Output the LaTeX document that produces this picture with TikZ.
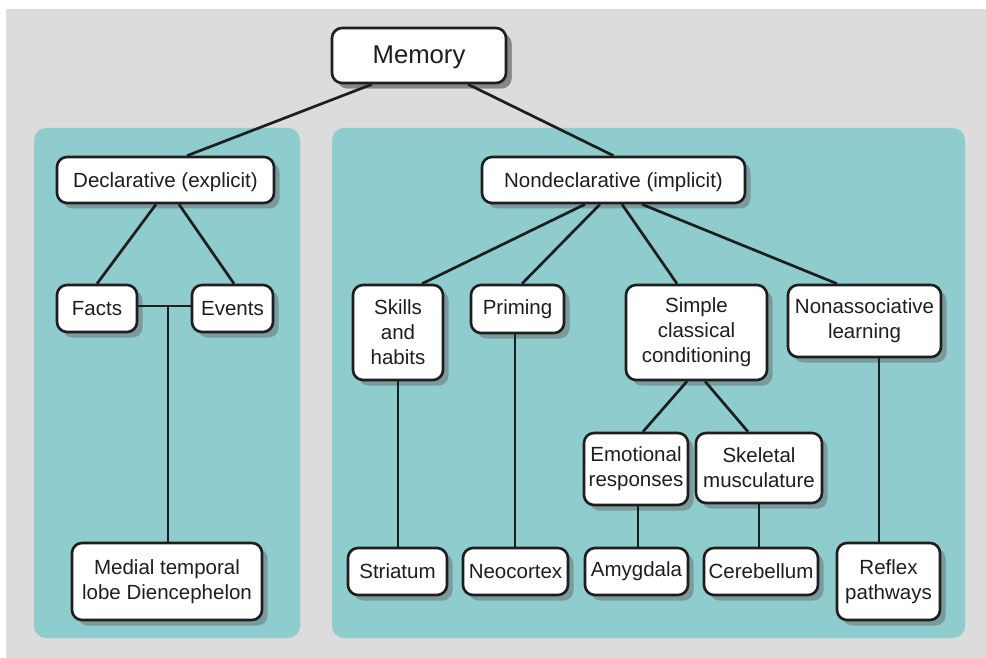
\documentclass[tikz,border=0pt]{standalone}
\usepackage{fontspec}
\setmainfont{Liberation Sans}
\usetikzlibrary{shadows}
\definecolor{bgc}{HTML}{DCDCDC}
\definecolor{teal1}{HTML}{8ECCCD}
\definecolor{shd}{HTML}{7B9A9B}
\definecolor{shdg}{HTML}{878787}
\definecolor{ink}{HTML}{1E1E1E}
\begin{document}
\begin{tikzpicture}[x=1pt,y=-1pt,
  box/.style={draw=ink, line width=2.6pt, fill=white, rounded corners=10pt,
    inner sep=0pt, align=center, text=ink,
    font=\fontsize{20.5}{25}\selectfont,
    drop shadow={shadow xshift=5.5pt, shadow yshift=-5.5pt, fill=shd, opacity=1}},
  link/.style={draw=ink, line width=2.7pt},
  panel/.style={fill=teal1, rounded corners=12pt}]
\useasboundingbox (0,0) rectangle (986,658);
\fill[white] (0,0) rectangle (986,658);
\fill[bgc] (6,9) rectangle (986,658);
\fill[panel] (34,128) rectangle (300,638);
\fill[panel] (332,128) rectangle (965,638);

% nodes
\node[box, minimum width=174pt, minimum height=55pt, font=\fontsize{25.7}{30}\selectfont,
  text height=17pt, text depth=0pt,
  drop shadow={shadow xshift=5.5pt, shadow yshift=-5.5pt, fill=shdg, opacity=1}] (mem) at (419,55.5) {Memory};
\node[box, minimum width=217pt, minimum height=46pt, text height=15pt, text depth=0pt] (decl) at (165.5,180) {Declarative (explicit)};
\node[box, minimum width=80pt, minimum height=47pt] (facts) at (97,308.5) {Facts};
\node[box, minimum width=81pt, minimum height=47pt] (events) at (232.5,308.5) {Events};
\node[box, minimum width=190pt, minimum height=77pt] (mtl) at (167,581.5) {Medial temporal\\lobe Diencephelon};
\node[box, minimum width=263pt, minimum height=46pt, text height=15pt, text depth=0pt] (nondecl) at (613.5,180) {Nondeclarative (implicit)};
\node[box, minimum width=90pt, minimum height=95pt] (skills) at (398,332.5) {Skills\\and\\habits};
\node[box, minimum width=93pt, minimum height=48pt] (priming) at (517.5,309) {Priming};
\node[box, minimum width=141pt, minimum height=95pt] (simple) at (696.5,332.5) {Simple\\classical\\conditioning};
\node[box, minimum width=153pt, minimum height=72pt] (nonassoc) at (864.5,321) {Nonassociative\\learning};
\node[box, minimum width=104pt, minimum height=72pt] (emot) at (636,469) {Emotional\\responses};
\node[box, minimum width=126pt, minimum height=70pt] (skel) at (759,468) {Skeletal\\musculature};
\node[box, minimum width=99pt, minimum height=47pt] (striatum) at (397.5,571.5) {Striatum};
\node[box, minimum width=105pt, minimum height=47pt] (neocortex) at (515.5,571.5) {Neocortex};
\node[box, minimum width=103pt, minimum height=47pt] (amyg) at (636.5,571.5) {Amygdala};
\node[box, minimum width=114pt, minimum height=47pt] (cereb) at (761,571.5) {Cerebellum};
\node[box, minimum width=103pt, minimum height=77pt] (reflex) at (888.5,581.5) {Reflex\\pathways};

% connectors
\draw[link] ([xshift=-47pt]mem.south) -- ([xshift=21.5pt]decl.north);
\draw[link] ([xshift=49pt]mem.south) -- (nondecl.north);
\draw[link] ([xshift=-9.5pt]decl.south) -- (facts.north);
\draw[link] ([xshift=13.5pt]decl.south) -- ([xshift=1.5pt]events.north);
\draw[link] ([yshift=2.5pt]facts.east) -- ([yshift=2.5pt]events.west);
\coordinate (dj) at ([xshift=1pt,yshift=2.5pt]mtl.north |- facts.east);
\draw[link] (dj) -- ([xshift=1pt]mtl.north);
\draw[link] ([xshift=-28.5pt]nondecl.south) -- ([xshift=24pt]skills.north);
\draw[link] ([xshift=-13.5pt]nondecl.south) -- ([xshift=4.5pt]priming.north);
\draw[link] ([xshift=8.5pt]nondecl.south) -- ([xshift=-19.5pt]simple.north);
\draw[link] ([xshift=28.5pt]nondecl.south) -- ([xshift=-27.5pt]nonassoc.north);
\draw[link] ([xshift=-9.5pt]simple.south) -- ([xshift=7pt]emot.north);
\draw[link] ([xshift=8.5pt]simple.south) -- ([xshift=-11pt]skel.north);
\draw[link] (skills.south) -- (skills.south |- striatum.north);
\draw[link] ([xshift=-0.5pt]neocortex.north |- priming.south) -- ([xshift=-0.5pt]neocortex.north);
\draw[link] ([xshift=2pt]emot.south) -- ([xshift=2pt]emot.south |- amyg.north);
\draw[link] (skel.south) -- (skel.south |- cereb.north);
\draw[link] ([xshift=14.5pt]nonassoc.south) -- ([xshift=14.5pt]nonassoc.south |- reflex.north);
\end{tikzpicture}
\end{document}
